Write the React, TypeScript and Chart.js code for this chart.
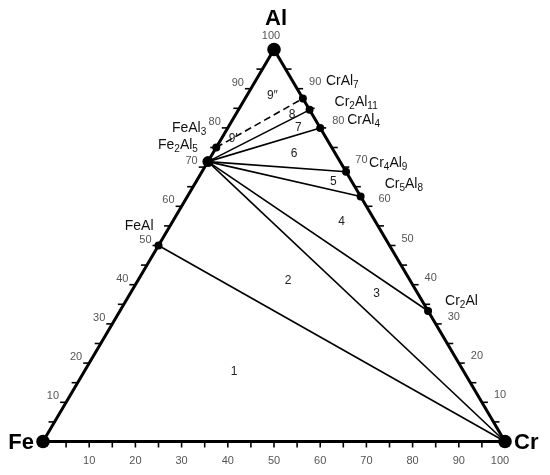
import React, { useEffect, useRef } from 'react';
import { Chart, registerables } from 'chart.js';
Chart.register(...registerables);

// Vertices (composition in at.%)
const vertexNames = ['Fe', 'Cr', 'Al'];
const vertexAl = [0, 0, 100];
const vertexCr = [0, 100, 0];

// Phases: Al and Cr content (at.%)
const phaseNames = ['FeAl', 'Fe_2Al_5', 'FeAl_3', 'CrAl_7', 'Cr_2Al_11', 'CrAl_4', 'Cr_4Al_9', 'Cr_5Al_8', 'Cr_2Al'];
const phaseAl = [50, 71.4, 75, 87.5, 84.6, 80, 68.8, 62.5, 33.3];
const phaseCr = [0, 0, 0, 12.5, 15.4, 20, 31.2, 37.5, 66.7];

// Tie lines
const tieFrom = ['FeAl', 'Fe_2Al_5', 'Fe_2Al_5', 'Fe_2Al_5', 'Fe_2Al_5', 'Fe_2Al_5', 'Fe_2Al_5'];
const tieTo = ['Cr', 'Cr', 'Cr_2Al', 'Cr_5Al_8', 'Cr_4Al_9', 'CrAl_4', 'Cr_2Al_11'];
const dashedFrom = ['FeAl_3'];
const dashedTo = ['CrAl_7'];

// Phase-field labels (Al, Cr)
const regionLabels = ['1', '2', '3', '4', '5', '6', '7', '8', '9\u2033', '9\u2032'];
const regionAl = [17.9, 41.1, 37.8, 56.1, 66.3, 73.5, 80.1, 83.4, 88.3, 77.3];
const regionCr = [32.4, 32.5, 53.3, 36.6, 29.7, 17.6, 15.2, 12.2, 5.5, 2.5];

// Axis ticks
const majorTicks = [10, 20, 30, 40, 50, 60, 70, 80, 90];
const minorTicks = [5, 15, 25, 35, 45, 55, 65, 75, 85, 95];
const bottomLabels = [10, 20, 30, 40, 50, 60, 70, 80, 90, 100];

// label layout (pixel offsets from the phase point)
const labelLayout: Record<string, { dx: number; dy: number; align: 'left' | 'right' }> = {
  FeAl: { dx: -5, dy: -19, align: 'right' },
  Fe_2Al_5: { dx: -10, dy: -16, align: 'right' },
  FeAl_3: { dx: -10, dy: -19, align: 'right' },
  CrAl_7: { dx: 23, dy: -17, align: 'left' },
  Cr_2Al_11: { dx: 25, dy: -8, align: 'left' },
  CrAl_4: { dx: 27, dy: -8, align: 'left' },
  Cr_4Al_9: { dx: 23, dy: -9, align: 'left' },
  Cr_5Al_8: { dx: 24, dy: -12, align: 'left' },
  Cr_2Al: { dx: 17, dy: -10, align: 'left' },
};

const toXY = (al: number, cr: number) => ({ x: cr + al / 2, y: al });

function comp(name: string) {
  const vi = vertexNames.indexOf(name);
  if (vi >= 0) return toXY(vertexAl[vi], vertexCr[vi]);
  const pi = phaseNames.indexOf(name);
  return toXY(phaseAl[pi], phaseCr[pi]);
}

const FONT = '"Liberation Sans", Arial, sans-serif';

function drawRich(ctx: CanvasRenderingContext2D, text: string, x: number, y: number, align: 'left' | 'right', size: number) {
  const segs: { t: string; sub: boolean }[] = [];
  const re = /_(\d+)|([^_]+?)(?=_|$)/g;
  let m: RegExpExecArray | null;
  while ((m = re.exec(text)) !== null) {
    if (m[1] !== undefined) segs.push({ t: m[1], sub: true });
    else if (m[2]) segs.push({ t: m[2], sub: false });
  }
  const subSize = Math.round(size * 0.72);
  let total = 0;
  for (const s of segs) {
    ctx.font = `${s.sub ? subSize : size}px ${FONT}`;
    total += ctx.measureText(s.t).width;
  }
  let cx = align === 'left' ? x : x - total;
  ctx.textAlign = 'left';
  ctx.textBaseline = 'middle';
  for (const s of segs) {
    ctx.font = `${s.sub ? subSize : size}px ${FONT}`;
    ctx.fillText(s.t, cx, s.sub ? y + 4 : y);
    cx += ctx.measureText(s.t).width;
  }
}

const ternaryPlugin = {
  id: 'ternaryDecor',
  beforeDatasetsDraw(chart: any) {
    const ctx = chart.ctx as CanvasRenderingContext2D;
    const xs = chart.scales.x;
    const ys = chart.scales.y;
    const P = (al: number, cr: number) => {
      const p = toXY(al, cr);
      return { x: xs.getPixelForValue(p.x), y: ys.getPixelForValue(p.y) };
    };
    ctx.save();
    ctx.strokeStyle = '#000';
    ctx.lineWidth = 1.6;
    const all = [...majorTicks, ...minorTicks];
    for (const v of all) {
      let p = P(v, 0);
      ctx.beginPath(); ctx.moveTo(p.x, p.y); ctx.lineTo(p.x - 6, p.y); ctx.stroke();
      p = P(v, 100 - v);
      ctx.beginPath(); ctx.moveTo(p.x, p.y); ctx.lineTo(p.x + 6, p.y); ctx.stroke();
      p = P(0, v);
      ctx.beginPath(); ctx.moveTo(p.x, p.y); ctx.lineTo(p.x, p.y + 6); ctx.stroke();
    }
    ctx.restore();
  },
  afterDatasetsDraw(chart: any) {
    const ctx = chart.ctx as CanvasRenderingContext2D;
    const xs = chart.scales.x;
    const ys = chart.scales.y;
    const P = (al: number, cr: number) => {
      const p = toXY(al, cr);
      return { x: xs.getPixelForValue(p.x), y: ys.getPixelForValue(p.y) };
    };
    ctx.save();
    ctx.fillStyle = '#555';
    ctx.font = `11px ${FONT}`;
    ctx.textBaseline = 'middle';
    for (const v of majorTicks) {
      let p = P(v, 0);
      ctx.textAlign = 'right';
      ctx.fillText(String(v), p.x - 7, p.y - 6);
      p = P(v, 100 - v);
      ctx.textAlign = 'left';
      ctx.fillText(String(v), p.x + 12, p.y - 7);
    }
    ctx.textAlign = 'center';
    for (const v of bottomLabels) {
      const p = P(0, v);
      ctx.fillText(String(v), p.x - (v === 100 ? 5 : 0), p.y + 19);
    }
    const top = P(100, 0);
    ctx.fillText('100', top.x - 3, top.y - 14);

    ctx.fillStyle = '#000';
    ctx.font = `bold 22px ${FONT}`;
    ctx.textAlign = 'center';
    ctx.fillText('Al', top.x + 2, top.y - 31);
    const fe = P(0, 0);
    ctx.textAlign = 'right';
    ctx.fillText('Fe', fe.x - 9, fe.y + 1);
    const cr = P(0, 100);
    ctx.textAlign = 'left';
    ctx.fillText('Cr', cr.x + 9, cr.y + 1);

    ctx.fillStyle = '#111';
    for (let i = 0; i < phaseNames.length; i++) {
      const p = P(phaseAl[i], phaseCr[i]);
      const l = labelLayout[phaseNames[i]];
      drawRich(ctx, phaseNames[i], p.x + l.dx, p.y + l.dy, l.align, 14);
    }

    ctx.fillStyle = '#222';
    ctx.font = `12px ${FONT}`;
    ctx.textAlign = 'center';
    ctx.textBaseline = 'middle';
    for (let i = 0; i < regionLabels.length; i++) {
      const p = P(regionAl[i], regionCr[i]);
      ctx.fillText(regionLabels[i], p.x, p.y);
    }
    ctx.restore();
  },
};

const X0 = 43;
const Y0 = 441.5;
const SX = 4.62;
const SY = 3.92;

export default function App() {
  const ref = useRef<HTMLCanvasElement | null>(null);
  useEffect(() => {
    if (!ref.current) return;
    const edge = [comp('Fe'), comp('Cr'), comp('Al'), comp('Fe')];
    const datasets: any[] = [];
    tieFrom.forEach((f, i) => {
      datasets.push({
        data: [comp(f), comp(tieTo[i])],
        showLine: true,
        borderColor: '#000',
        borderWidth: 1.6,
        pointRadius: 0,
      });
    });
    dashedFrom.forEach((f, i) => {
      datasets.push({
        data: [comp(f), comp(dashedTo[i])],
        showLine: true,
        borderColor: '#000',
        borderWidth: 1.6,
        borderDash: [7, 4],
        pointRadius: 0,
      });
    });
    datasets.push({
      data: edge,
      showLine: true,
      borderColor: '#000',
      borderWidth: 3,
      pointRadius: 0,
    });
    datasets.push({
      data: phaseNames.map((_, i) => toXY(phaseAl[i], phaseCr[i])),
      showLine: false,
      pointRadius: phaseNames.map((n) => (n === 'Fe_2Al_5' ? 5.5 : 4)),
      pointBackgroundColor: '#000',
      pointBorderColor: '#000',
      pointBorderWidth: 0,
    });
    datasets.push({
      data: vertexNames.map((_, i) => toXY(vertexAl[i], vertexCr[i])),
      showLine: false,
      pointRadius: 6.8,
      pointBackgroundColor: '#000',
      pointBorderColor: '#000',
      pointBorderWidth: 0,
    });
    const chart = new Chart(ref.current, {
      type: 'scatter',
      data: { datasets },
      options: {
        animation: false,
        responsive: true,
        maintainAspectRatio: false,
        layout: { padding: 0, autoPadding: false },
        events: [],
        scales: {
          x: { type: 'linear', display: false, min: -X0 / SX, max: (550 - X0) / SX },
          y: { type: 'linear', display: false, min: -(475 - Y0) / SY, max: Y0 / SY },
        },
        plugins: { legend: { display: false }, tooltip: { enabled: false } },
      },
      plugins: [ternaryPlugin],
    } as any);
    return () => chart.destroy();
  }, []);
  return (
    <div style={{ position: 'absolute', left: 0, top: 0, width: 550, height: 475, background: '#fff' }}>
      <canvas ref={ref} />
    </div>
  );
}
